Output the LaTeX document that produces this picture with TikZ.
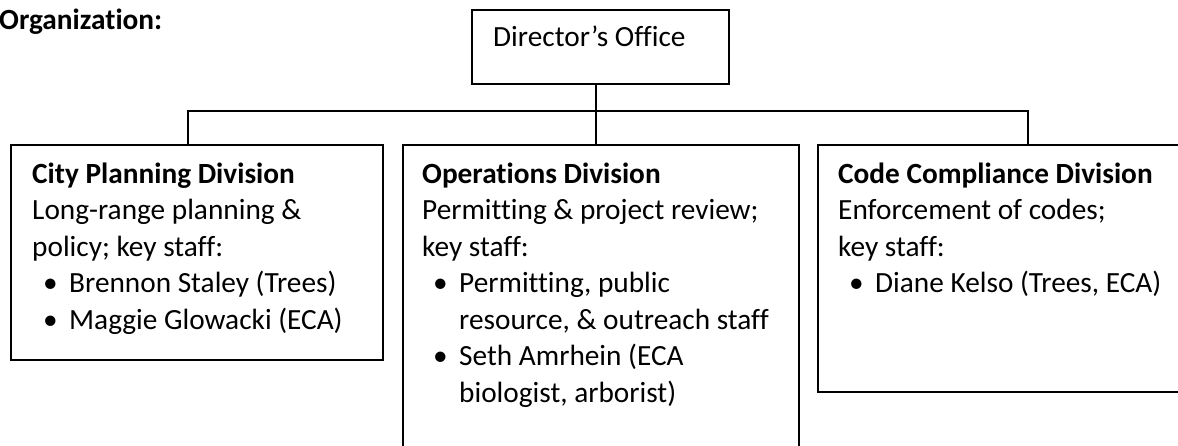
\documentclass[tikz,border=0pt]{standalone}
\usepackage{fontspec}
\setmainfont{Carlito}[Ligatures={NoCommon,NoContextual}]
\begin{document}
\begin{tikzpicture}[x=1pt,y=1pt,
  frame/.style={draw=black, line width=1.6pt, rectangle, inner sep=0pt, anchor=north west, fill=none},
  conn/.style={draw=black, line width=1.6pt},
  txt/.style={inner sep=0pt, anchor=north west, align=left, font=\fontsize{29.3}{36.5}\selectfont},
  ttl/.style={inner sep=0pt, anchor=base west, font=\fontsize{29.3}{36.5}\selectfont}
]
\newcommand{\itm}[1]{\makebox[37pt][l]{\hspace*{11pt}\textbullet}#1}
\newcommand{\cnt}[1]{\hspace*{37pt}#1}
\path[use as bounding box, clip] (0,0) rectangle (1178,-446);

% title
\node[ttl, font=\fontsize{29.3}{36.5}\selectfont\bfseries] (org) at (-1,-30) {Organization:};

% director
\node[frame, minimum width=257pt, minimum height=74pt] (dir) at (471,-9) {};
\node[ttl] (dirt) at (493,-47) {Director’s Office};

% division boxes
\node[frame, minimum width=372pt, minimum height=215pt] (cp) at (10,-144) {};
\node[frame, minimum width=396pt, minimum height=340pt] (ops) at (402,-144) {};
\node[frame, minimum width=393pt, minimum height=247pt] (cc) at (817,-144) {};

% connectors
\coordinate (bL) at (188,-111);
\coordinate (bR) at (1028,-111);
\coordinate (bM) at (596,-111);
\draw[conn] (bM |- dir.south) -- (bM |- ops.north);
\draw[conn] (bL |- cp.north) -- (bL) -- (bR) -- (bR |- cc.north);

% texts
\node[txt] (cpt) at (32,-157) {\rule{0pt}{26pt}\textbf{City Planning Division}\\
Long-range planning \&\\
policy; key staff:\\
\itm{Brennon Staley (Trees)}\\
\itm{Maggie Glowacki (ECA)}};

\node[txt] (opst) at (422,-157) {\rule{0pt}{26pt}\textbf{Operations Division}\\
Permitting \& project review;\\
key staff:\\
\itm{Permitting, public}\\
\cnt{resource, \& outreach staff}\\
\itm{Seth Amrhein (ECA}\\
\cnt{biologist, arborist)}};

\node[txt] (cct) at (838,-157) {\rule{0pt}{26pt}\textbf{Code Compliance Division}\\
Enforcement of codes;\\
key staff:\\
\itm{Diane Kelso (Trees, ECA)}};
\end{tikzpicture}
\end{document}
